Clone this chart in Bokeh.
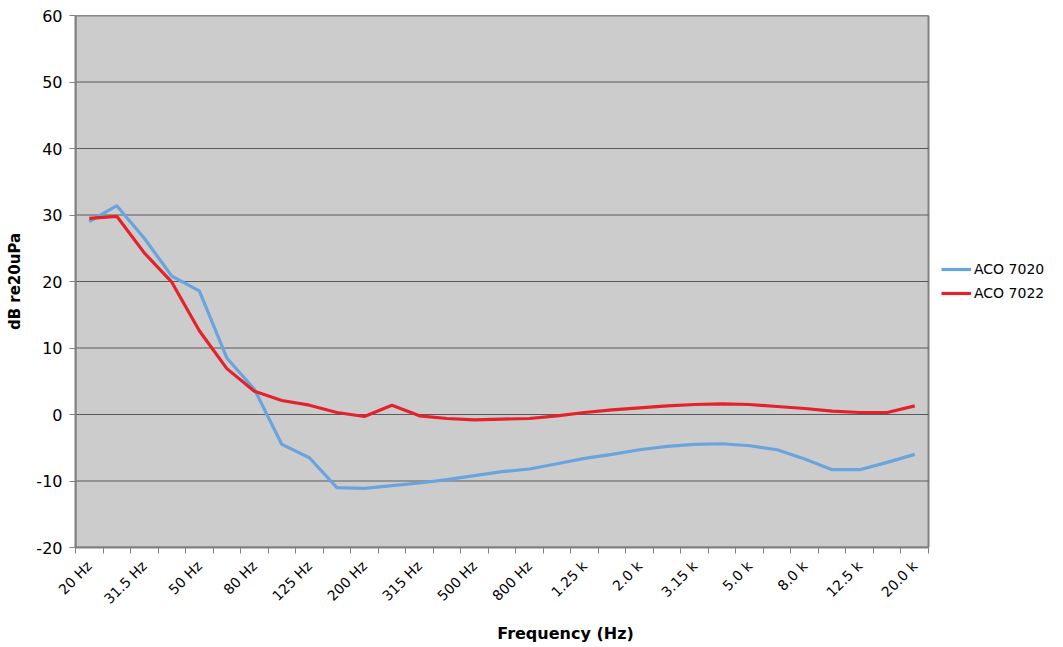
import math
from bokeh.plotting import figure
from bokeh.models import Range1d, FixedTicker, Legend, LegendItem
from bokeh.embed import file_html
from bokeh.resources import INLINE

bands = ["20 Hz", "25 Hz", "31.5 Hz", "40 Hz", "50 Hz", "63 Hz", "80 Hz", "100 Hz",
         "125 Hz", "160 Hz", "200 Hz", "250 Hz", "315 Hz", "400 Hz", "500 Hz", "630 Hz",
         "800 Hz", "1.0 k", "1.25 k", "1.6 k", "2.0 k", "2.5 k", "3.15 k", "4.0 k",
         "5.0 k", "6.3 k", "8.0 k", "10.0 k", "12.5 k", "16.0 k", "20.0 k"]

aco_7020 = [29.0, 31.4, 26.5, 20.8, 18.6, 8.5, 3.8, -4.5, -6.5, -11.0, -11.1, -10.7,
            -10.3, -9.8, -9.2, -8.6, -8.2, -7.4, -6.6, -6.0, -5.3, -4.8, -4.5, -4.4,
            -4.7, -5.3, -6.7, -8.3, -8.3, -7.2, -6.0]
aco_7022 = [29.5, 29.8, 24.3, 19.9, 12.6, 6.9, 3.5, 2.1, 1.4, 0.3, -0.3, 1.4,
            -0.2, -0.6, -0.8, -0.7, -0.6, -0.2, 0.3, 0.7, 1.0, 1.3, 1.5, 1.6,
            1.5, 1.2, 0.9, 0.5, 0.3, 0.3, 1.3]

y_ticks = [-20, -10, 0, 10, 20, 30, 40, 50, 60]
y_tick_labels = ["-20", "-10", "0", "10", "20", "30", "40", "50", "60"]

FONT = "DejaVu Sans"
n = len(bands)
idx = list(range(n))
x_lo, x_hi = -0.5, n - 0.5
y_lo, y_hi = min(y_ticks), max(y_ticks)

PLOT_W = 853          # width of the grey plot area in px
FRAME_W = 980         # frame also holds the legend strip on the right
x_span = (x_hi - x_lo) * FRAME_W / PLOT_W

p = figure(frame_width=FRAME_W, frame_height=532, output_backend="svg",
           toolbar_location=None,
           x_range=Range1d(x_lo, x_lo + x_span), y_range=Range1d(y_lo, y_hi),
           min_border_left=75, min_border_top=15, min_border_right=0, min_border_bottom=92)
p.background_fill_color = "white"
p.border_fill_color = "white"
p.outline_line_color = None

# grey plot area with border
p.quad(left=[x_lo], right=[x_hi], bottom=[y_lo], top=[y_hi],
       fill_color="#cccccc", line_color="#808080", line_width=2)
# horizontal grid lines limited to plot area
p.segment(x0=[x_lo] * len(y_ticks), x1=[x_hi] * len(y_ticks), y0=y_ticks, y1=y_ticks,
          line_color="#5a5a5a", line_width=1)

r1 = p.line(idx, aco_7020, line_color="#6aa4de", line_width=3.2)
r2 = p.line(idx, aco_7022, line_color="#e3222b", line_width=3.2)

# x axis
xt = FixedTicker(ticks=list(range(0, n, 2)),
                 minor_ticks=[i - 0.5 for i in range(n + 1)])
p.xaxis.ticker = xt
p.xaxis.bounds = (x_lo, x_hi)
p.xaxis.major_label_overrides = {i: bands[i] for i in range(0, n, 2)}
p.xaxis.major_label_orientation = math.pi / 4
p.xaxis.major_tick_line_color = None
p.xaxis.major_tick_in = 0
p.xaxis.major_tick_out = 6
p.xaxis.minor_tick_in = 0
p.xaxis.minor_tick_out = 6
p.xaxis.minor_tick_line_color = "#808080"
p.xaxis.axis_line_color = "#808080"
p.xaxis.axis_line_width = 2
p.xaxis.axis_label = "Frequency (Hz)"
p.xaxis.axis_label_text_font_style = "bold"
p.xaxis.axis_label_text_font = FONT
p.xaxis.axis_label_text_font_size = "16px"
p.xaxis.axis_label_text_color = "black"
p.xaxis.major_label_text_font = FONT
p.xaxis.major_label_text_font_size = "14px"
p.xaxis.major_label_text_color = "black"
p.xaxis.major_label_standoff = 10
p.xaxis.axis_label_standoff = 8

# y axis
p.yaxis.ticker = FixedTicker(ticks=y_ticks)
p.yaxis.major_label_overrides = dict(zip(y_ticks, y_tick_labels))
p.yaxis.major_tick_in = 0
p.yaxis.major_tick_out = 6
p.yaxis.minor_tick_line_color = None
p.yaxis.major_tick_line_color = "#808080"
p.yaxis.axis_line_color = "#808080"
p.yaxis.axis_line_width = 2
p.yaxis.axis_label = "dB re20uPa"
p.yaxis.axis_label_text_font_style = "bold"
p.yaxis.axis_label_text_font = FONT
p.yaxis.axis_label_text_font_size = "15px"
p.yaxis.axis_label_text_color = "black"
p.yaxis.major_label_text_font = FONT
p.yaxis.major_label_text_font_size = "16px"
p.yaxis.major_label_text_color = "black"
p.yaxis.major_label_standoff = 7
p.yaxis.axis_label_standoff = 9

p.xgrid.grid_line_color = None
p.ygrid.grid_line_color = None

legend = Legend(items=[LegendItem(label="ACO 7020", renderers=[r1]),
                       LegendItem(label="ACO 7022", renderers=[r2])],
                location=(866, 244), border_line_color=None,
                background_fill_alpha=0,
                label_text_font=FONT, label_text_font_size="14px",
                label_text_color="black",
                glyph_width=30, label_standoff=3, spacing=4,
                padding=4, margin=0)
p.add_layout(legend, "center")

open("out.html", "w").write(file_html(p, INLINE))
